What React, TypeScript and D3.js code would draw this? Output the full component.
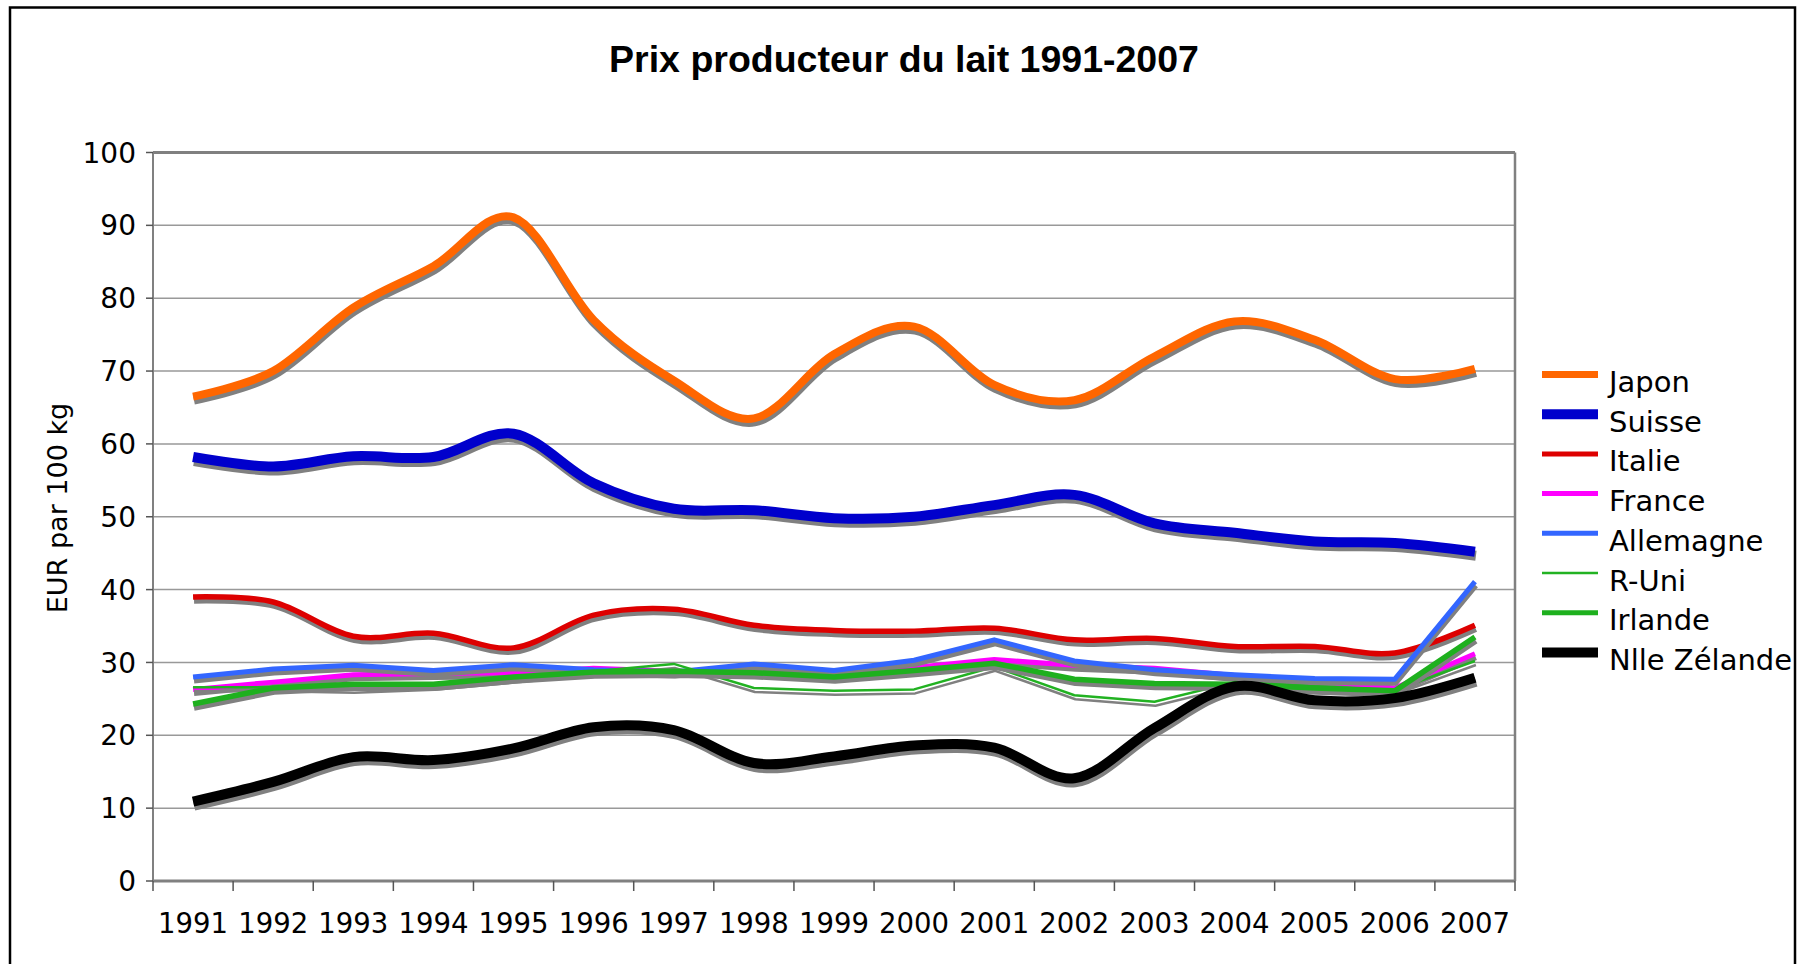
import React from "react";
import * as d3 from "d3";

const years = ["1991","1992","1993","1994","1995","1996","1997","1998","1999","2000","2001","2002","2003","2004","2005","2006","2007"];
const yTicks = [0,10,20,30,40,50,60,70,80,90,100];

const japon = [66.5, 70, 78.7, 84.4, 91.1, 77.0, 68.7, 63.5, 72.3, 76.1, 68.1, 66.0, 72.0, 76.8, 74.3, 68.9, 70.3];
const suisse = [58.2, 56.9, 58.3, 58.2, 61.4, 54.6, 51.1, 50.9, 49.8, 50.0, 51.6, 53.0, 49.1, 47.8, 46.6, 46.4, 45.2];
const italie = [39.0, 38.3, 33.6, 34.0, 32.0, 36.5, 37.3, 35.1, 34.4, 34.3, 34.7, 33.1, 33.3, 32.2, 32.2, 31.3, 35.1];
const france = [26.3, 27.3, 28.3, 28.5, 28.6, 29.2, 28.8, 28.7, 28.3, 29.3, 30.4, 29.6, 29.2, 28.2, 27.5, 26.5, 31.2];
const allemagne = [28.0, 29.1, 29.6, 28.9, 29.7, 29.0, 28.7, 29.8, 28.9, 30.3, 33.1, 30.2, 29.0, 28.3, 27.8, 27.7, 41.1];
const rUni = [26.6, 26.6, 26.4, 26.8, 27.8, 28.8, 29.8, 26.5, 26.1, 26.3, 29.4, 25.5, 24.6, 27.3, 26.7, 26.2, 30.2];
const irlande = [24.3, 26.5, 27.0, 27.0, 28.0, 28.7, 28.8, 28.6, 28.0, 28.9, 29.9, 27.7, 27.1, 27.0, 26.5, 26.1, 33.5];
const nlleZelande = [10.9, 13.6, 17.0, 16.6, 18.2, 21.1, 20.7, 16.2, 17.1, 18.6, 18.3, 14.1, 21.0, 26.7, 24.8, 25.1, 27.9];

const seriesNames = ["Japon","Suisse","Italie","France","Allemagne","R-Uni","Irlande","Nlle Zélande"];
const seriesValues = [japon, suisse, italie, france, allemagne, rUni, irlande, nlleZelande];
const seriesColors = ["#FF6600","#0000CC","#DD0000","#FF00FF","#3366FF","#22B222","#1EB01E","#000000"];
const seriesWidths = [8, 10, 5.5, 5, 5, 2.5, 5.5, 10];
const legendWidths = [7, 10, 5, 5, 5, 2.5, 5, 10];
const seriesSmooth = [true, true, true, false, false, false, false, true];

const W = 1798, H = 964;
const plot = { left: 153, right: 1515, top: 152.5, bottom: 881 };
const FONT = "'DejaVu Sans', Verdana, sans-serif";

export default function App() {
  const x = d3.scaleBand<string>().domain(years).range([plot.left, plot.right]).paddingInner(0).paddingOuter(0);
  const y = d3.scaleLinear().domain([0, 100]).range([plot.bottom, plot.top]);
  const cx = (yr: string) => (x(yr) as number) + x.bandwidth() / 2;

  const boundaries = years.map((yr) => x(yr) as number).concat([plot.right]);

  const makeLine = (smooth: boolean) =>
    d3.line<number>()
      .x((_, i) => cx(years[i]))
      .y((v) => y(v))
      .curve(smooth ? d3.curveCardinal.tension(0) : d3.curveLinear);

  const legendX0 = 1542, legendX1 = 1598, legendTextX = 1609, legendY0 = 374.5, legendStep = 39.7;

  return (
    <svg width={W} height={H} style={{ position: "absolute", left: 0, top: 0, background: "#fff" }}>
      <rect x={0} y={0} width={W} height={H} fill="#fff" />
      {/* outer border */}
      <rect x={10} y={7.5} width={1785} height={H + 20} fill="none" stroke="#000" strokeWidth={2.5} />

      {/* title */}
      <text x={904} y={72} textAnchor="middle" fontFamily="'Liberation Sans', Arial, sans-serif" fontWeight="bold" fontSize={37.5} fill="#000">
        Prix producteur du lait 1991-2007
      </text>

      {/* gridlines */}
      {yTicks.filter((t) => t > 0 && t < 100).map((t) => (
        <line key={"g" + t} x1={plot.left} x2={plot.right} y1={y(t)} y2={y(t)} stroke="#999" strokeWidth={1.5} />
      ))}

      {/* plot frame */}
      <line x1={plot.left} x2={plot.right} y1={plot.top} y2={plot.top} stroke="#808080" strokeWidth={3} />
      <line x1={plot.right} x2={plot.right} y1={plot.top} y2={plot.bottom} stroke="#808080" strokeWidth={2.5} />
      <line x1={plot.left} x2={plot.left} y1={plot.top} y2={plot.bottom} stroke="#808080" strokeWidth={2} />
      <line x1={plot.left} x2={plot.right} y1={plot.bottom} y2={plot.bottom} stroke="#808080" strokeWidth={3} />

      {/* y ticks & labels */}
      {yTicks.map((t) => (
        <g key={"y" + t}>
          <line x1={plot.left - 7} x2={plot.left} y1={y(t)} y2={y(t)} stroke="#555" strokeWidth={1.5} />
          <text x={136} y={y(t)} dy="0.36em" textAnchor="end" fontFamily={FONT} fontSize={28} fill="#000">{t}</text>
        </g>
      ))}

      {/* x ticks & labels */}
      {boundaries.map((b, i) => (
        <line key={"xt" + i} x1={b} x2={b} y1={plot.bottom} y2={plot.bottom + 10} stroke="#555" strokeWidth={1.5} />
      ))}
      {years.map((yr) => (
        <text key={"xl" + yr} x={cx(yr)} y={933} textAnchor="middle" fontFamily={FONT} fontSize={27.5} fill="#000">{yr}</text>
      ))}

      {/* y axis title */}
      <text transform="translate(57,508) rotate(-90)" textAnchor="middle" dominantBaseline="central" fontFamily={FONT} fontSize={27} fill="#000">
        EUR par 100 kg
      </text>

      {/* series */}
      {seriesValues.map((vals, i) => {
        const d = makeLine(seriesSmooth[i])(vals) as string;
        return (
          <g key={"s" + i}>
            <path d={d} transform="translate(1,4)" fill="none" stroke="#808080" strokeWidth={seriesWidths[i]} strokeLinejoin="round" />
            <path d={d} fill="none" stroke={seriesColors[i]} strokeWidth={seriesWidths[i]} strokeLinejoin="round" />
          </g>
        );
      })}

      {/* legend */}
      {seriesNames.map((name, i) => {
        const ly = legendY0 + i * legendStep;
        return (
          <g key={"l" + i}>
            <line x1={legendX0} x2={legendX1} y1={ly} y2={ly} stroke={seriesColors[i]} strokeWidth={legendWidths[i]} />
            <text x={legendTextX} y={ly + 17.5} fontFamily={FONT} fontSize={29} fill="#000">{name}</text>
          </g>
        );
      })}
    </svg>
  );
}
